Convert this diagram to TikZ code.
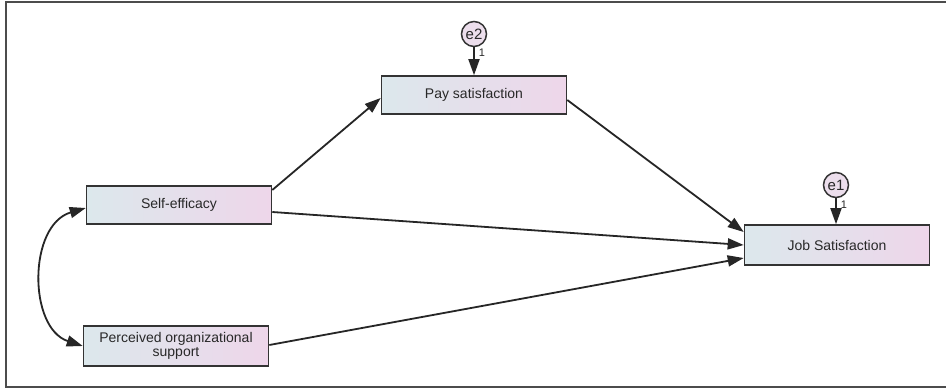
\documentclass[tikz,border=0pt]{standalone}
\usepackage{fontspec}
\setmainfont{Liberation Sans}
\usetikzlibrary{arrows.meta}
\definecolor{boxL}{RGB}{220,232,236}
\definecolor{boxR}{RGB}{238,214,234}
\definecolor{errF}{RGB}{236,222,236}
\definecolor{txt}{RGB}{40,40,40}
\begin{document}
\begin{tikzpicture}[x=1pt,y=-1pt,
  obs/.style={draw=black!80, line width=1.6pt, left color=boxL, right color=boxR, minimum width=185pt, minimum height=38pt, inner sep=1pt, text=txt, font=\fontsize{14}{15}\selectfont, align=center},
  err/.style={draw=black!80, line width=1.5pt, circle, fill=errF, minimum size=25pt, inner sep=0pt, text=txt, font=\fontsize{15}{16}\selectfont},
  path/.style={line width=1.8pt, draw=black!85, -{Triangle[length=16pt,width=11pt]}},
  lbl/.style={font=\fontsize{11}{12}\selectfont, inner sep=0pt, text=txt}]
\useasboundingbox (0,0) rectangle (946,388);
\fill[white] (0,0) rectangle (946,388);
\draw[black!70, line width=1.4pt] (946,2) -- (6,2) -- (6,387) -- (946,387);
\node[obs] (pay) at (474,95) {Pay satisfaction};
\node[obs] (self) at (179,205) {Self-efficacy};
\node[obs, minimum height=40pt, inner sep=0pt] (pos) at (176,346) {Perceived organizational\\[-1pt]support};
\node[obs, minimum height=40pt] (job) at (837,245) {Job Satisfaction};
\node[err] (e2) at (474,34) {e2};
\node[err] (e1) at (836,185) {e1};
\draw[path] (e2) -- (pay.north);
\node[lbl] at (482,53) {1};
\draw[path] (e1) -- (job.north -| e1);
\node[lbl] at (844,205) {1};
\draw[path] (self.east |- 0,190) -- (pay.west |- 0,98);
\draw[path] (pay.east |- 0,100) -- (job.west |- 0,232);
\draw[path] (self.east |- 0,212) -- (job.west |- 0,245);
\draw[path] (pos.east |- 0,345) -- (job.west |- 0,258);
\draw[line width=1.8pt, draw=black!85, {Triangle[length=16pt,width=11pt]}-{Triangle[length=16pt,width=11pt]}] (self.west |- 0,208) .. controls (28,225) and (28,328) .. (pos.west |- 0,346);
\end{tikzpicture}
\end{document}
